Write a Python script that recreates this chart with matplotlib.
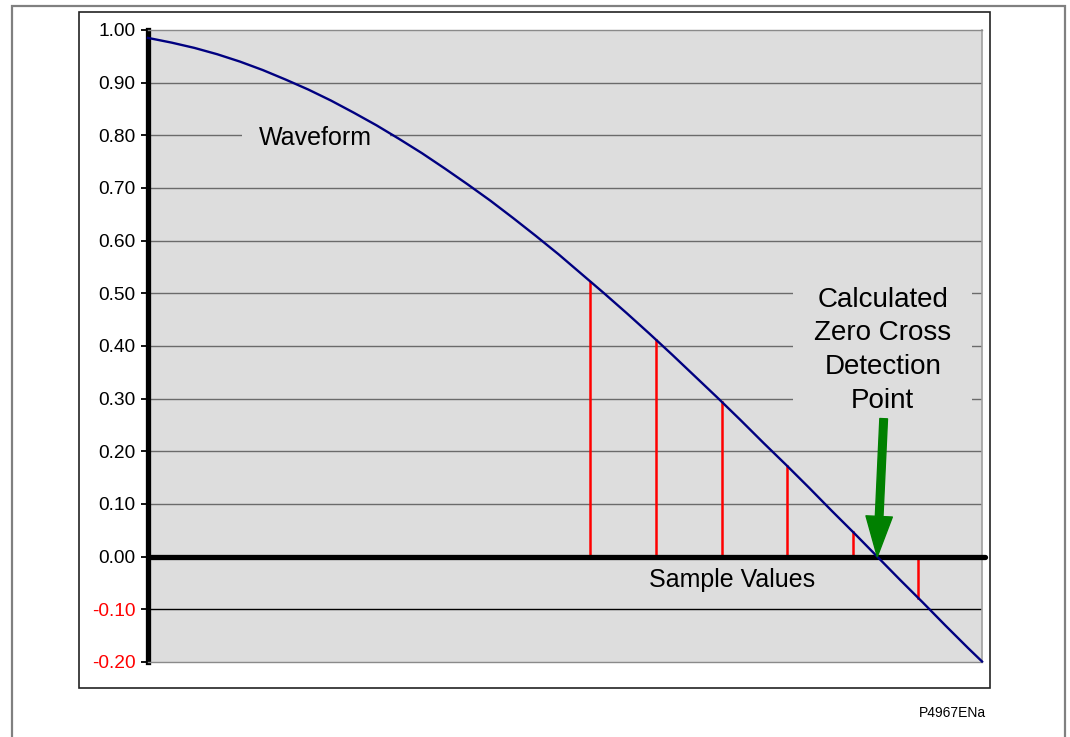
import matplotlib
matplotlib.use("Agg")
import matplotlib.pyplot as plt
from matplotlib.patches import Rectangle

plt.rcParams['font.family'] = ['Liberation Sans', 'DejaVu Sans']

# Waveform (angle in degrees, value)
wave_x = [9.9, 12.5, 15, 17.5, 20, 22.5, 25, 27.5, 30, 32.5, 35, 37.5, 40, 42.5, 45,
          47.5, 50, 52.5, 55, 57.5, 60, 62.5, 65, 67.5, 70, 72.5, 75, 77.5, 80, 82.5,
          85, 87.5, 90, 92.5, 95, 97.5, 100, 101.5]
wave_y = [0.985, 0.976, 0.966, 0.954, 0.940, 0.924, 0.906, 0.887, 0.866, 0.843,
          0.819, 0.793, 0.766, 0.737, 0.707, 0.676, 0.643, 0.609, 0.574, 0.537,
          0.500, 0.462, 0.423, 0.383, 0.342, 0.301, 0.259, 0.216, 0.174, 0.131,
          0.087, 0.044, 0.000, -0.044, -0.087, -0.131, -0.174, -0.199]

# Sample values (red stems)
sample_x = [58.5, 65.7, 72.9, 80.1, 87.3, 94.5]
sample_y = [0.522, 0.412, 0.294, 0.172, 0.047, -0.078]

yticks = [-0.20, -0.10, 0.00, 0.10, 0.20, 0.30, 0.40, 0.50, 0.60, 0.70, 0.80, 0.90, 1.00]
ytick_labels = ["-0.20", "-0.10", "0.00", "0.10", "0.20", "0.30", "0.40", "0.50",
                "0.60", "0.70", "0.80", "0.90", "1.00"]
zero_cross_x = 90.0

W, H = 1070, 737
fig = plt.figure(figsize=(W / 100, H / 100), dpi=100)
fig.patch.set_facecolor('white')

# outer frames
fig.add_artist(Rectangle((12 / W, 1 - 745 / H), (1065 - 12) / W, (745 - 6) / H,
                         transform=fig.transFigure, fill=False, edgecolor='#808080', linewidth=1.6))
fig.add_artist(Rectangle((79 / W, 1 - 688 / H), (990 - 79) / W, (688 - 12) / H,
                         transform=fig.transFigure, fill=False, edgecolor='#222222', linewidth=1.2))

ax = fig.add_axes([148 / W, 1 - 662 / H, (982 - 148) / W, (662 - 30) / H])
ax.set_facecolor('#DDDDDD')
ax.set_xlim(9.9, 101.5)
ax.set_ylim(-0.2, 1.0)

# grid lines
for v in yticks:
    if v in (0.0, -0.2, 1.0):
        continue
    col = '#000000' if v < 0 else '#6a6a6a'
    ax.axhline(v, color=col, linewidth=1.0, zorder=1)

# spines
ax.spines['left'].set_linewidth(3.8)
ax.spines['left'].set_color('black')
for s in ('top', 'bottom'):
    ax.spines[s].set_color('#8a8a8a')
    ax.spines[s].set_linewidth(1.0)
ax.spines['right'].set_color('#a0a0a0')
ax.spines['right'].set_linewidth(1.2)

ax.set_xticks([])
ax.set_yticks(yticks)
ax.set_yticklabels(ytick_labels, fontsize=13.8)
for lbl, v in zip(ax.get_yticklabels(), yticks):
    lbl.set_color('red' if v < 0 else 'black')
ax.tick_params(axis='y', direction='out', length=5, width=1.3, color='black', pad=4)

# zero line
ax.plot([9.9, 101.8], [0, 0], color='black', linewidth=3.8, solid_capstyle='round',
        zorder=4, clip_on=False)

# stems
for sx, sy in zip(sample_x, sample_y):
    ax.plot([sx, sx], [0, sy], color='red', linewidth=1.8, zorder=3)

# waveform
ax.plot(wave_x, wave_y, color='#000080', linewidth=1.7, zorder=5, clip_on=False)

# texts
ax.text(28.3, 0.795, "Waveform", fontsize=18, ha='center', va='center', zorder=2,
        bbox=dict(boxstyle='square,pad=0.7', facecolor='#DDDDDD', edgecolor='none'))
ax.text(90.6, 0.392, "Calculated\nZero Cross\nDetection\nPoint", fontsize=20,
        ha='center', va='center', linespacing=1.38, zorder=2,
        bbox=dict(boxstyle='square,pad=0.75', facecolor='#DDDDDD', edgecolor='none'))
ax.text(74.0, -0.045, "Sample Values", fontsize=18, ha='center', va='center', zorder=6)

ax.annotate("", xy=(zero_cross_x, 0.0), xytext=(90.7, 0.262),
            arrowprops=dict(facecolor='#008000', edgecolor='#008000', width=5.5,
                            headwidth=19, headlength=29, shrink=0.0),
            zorder=7)

fig.text(986 / W, 1 - 713 / H, "P4967ENa", fontsize=10, ha='right', va='center')

fig.savefig("out.png", dpi=100)
